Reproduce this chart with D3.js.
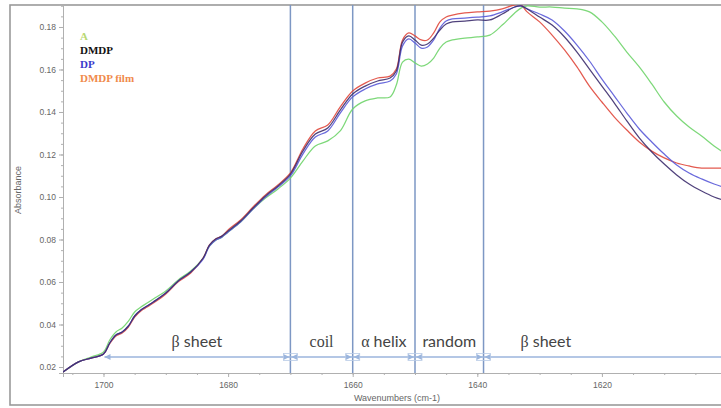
<!DOCTYPE html>
<html><head><meta charset="utf-8">
<script src="https://cdn.jsdelivr.net/npm/d3@7"></script>
<style>html,body{margin:0;padding:0;background:#fff;overflow:hidden}</style>
</head><body>
<svg id="c" width="721" height="408"></svg>
<script>
const wavenumbers = [1706.5,1704,1702,1700,1699,1698,1697,1696,1695,1694,1693,1692,1690,1688,1686,1684,1683,1682,1681,1680,1678,1676,1674,1672,1670,1668,1666,1664,1662,1660,1658,1656,1654,1653,1652,1651,1650,1649,1648,1647,1646,1645,1644,1642,1640,1638,1636,1634,1633,1632,1630,1628,1626,1624,1622,1620,1618,1616,1614,1612,1610,1608,1606,1604,1602,1600];
const seriesA = [.0176,.0224,.0247,.0271,.0327,.0365,.0384,.0416,.0459,.0482,.0501,.0520,.0558,.0610,.0652,.0713,.0769,.0797,.0811,.0835,.0882,.0943,.0995,.1038,.1089,.1169,.1240,.1264,.1311,.1414,.1452,.1466,.1471,.1527,.1635,.1649,.1631,.1616,.1626,.1654,.1701,.1729,.1739,.1748,.1753,.1762,.1809,.1866,.1889,.1899,.1894,.1894,.1889,.1885,.1871,.1824,.1758,.1682,.1612,.1532,.1447,.1381,.1329,.1287,.1240,.1202];
const seriesDMDP = [.0176,.0224,.0242,.0261,.0313,.0351,.0365,.0393,.0440,.0468,.0487,.0506,.0548,.0605,.0647,.0713,.0774,.0802,.0816,.0840,.0887,.0948,.1005,.1052,.1108,.1216,.1296,.1325,.1409,.1485,.1522,.1546,.1560,.1593,.1729,.1758,.1739,.1715,.1720,.1748,.1786,.1814,.1824,.1828,.1833,.1833,.1861,.1894,.1899,.1885,.1847,.1809,.1753,.1682,.1602,.1522,.1442,.1358,.1278,.1212,.1155,.1104,.1061,.1028,.1000,.0981];
const seriesDP = [.0176,.0224,.0242,.0261,.0313,.0351,.0365,.0393,.0440,.0468,.0487,.0506,.0548,.0605,.0647,.0708,.0769,.0797,.0811,.0835,.0882,.0943,.1000,.1047,.1099,.1202,.1282,.1311,.1395,.1471,.1508,.1532,.1546,.1579,.1711,.1744,.1725,.1701,.1706,.1739,.1795,.1828,.1838,.1842,.1847,.1852,.1871,.1894,.1899,.1885,.1861,.1833,.1781,.1715,.1640,.1555,.1475,.1395,.1320,.1259,.1202,.1151,.1113,.1085,.1061,.1042];
const seriesFilm = [.0176,.0224,.0242,.0261,.0310,.0346,.0360,.0388,.0435,.0464,.0482,.0501,.0544,.0601,.0642,.0713,.0774,.0802,.0816,.0845,.0892,.0953,.1010,.1057,.1113,.1226,.1311,.1339,.1424,.1499,.1536,.1560,.1569,.1602,.1739,.1772,.1758,.1739,.1739,.1772,.1824,.1847,.1856,.1866,.1871,.1875,.1885,.1904,.1904,.1871,.1824,.1762,.1692,.1612,.1522,.1447,.1376,.1315,.1259,.1216,.1184,.1160,.1146,.1136,.1136,.1136];
const seriesNames = ["A","DMDP","DP","DMDP film"];
const xTicks = [1700,1680,1660,1640,1620];
const yTicks = [0.02,0.04,0.06,0.08,0.10,0.12,0.14,0.16,0.18];
const boundaries = [1670,1660,1650,1639];
const regionLabels = [
  {from:1700,to:1670,parts:[["β","serif"],[" sheet","sans"]]},
  {from:1670,to:1660,parts:[["coil","serif"]]},
  {from:1660,to:1650,parts:[["α","serif"],[" helix","sans"]]},
  {from:1650,to:1639,parts:[["random","sans"]]},
  {from:1639,to:1619,parts:[["β","serif"],[" sheet","sans"]]}
];

const lineColors = ["#6fd46a","#3d2e6e","#5a5ad8","#e0483c"];
const legendColors = ["#b9d873","#111111","#3b3bcc","#f08a4b"];
const allSeries = [seriesA, seriesDMDP, seriesDP, seriesFilm];

const svg = d3.select("#c");
const L = 63, R = 730, T = 5, B = 373;
const x = d3.scaleLinear().domain([1706.5, 1599.44]).range([L, R]);
const y = d3.scaleLinear().domain([0.01718, 0.19035]).range([B, T]);

svg.append("defs").append("clipPath").attr("id","clip")
  .append("rect").attr("x",L).attr("y",T).attr("width",R-L).attr("height",B-T);

// outer frame
svg.append("rect").attr("x",10).attr("y",5).attr("width",760).attr("height",400)
  .attr("fill","none").attr("stroke","#9a9a9a").attr("stroke-width",1.6);

// axes
const gx = svg.append("g").attr("transform",`translate(0,${B})`);
gx.call(d3.axisBottom(x).tickValues(d3.range(1705,1599,-5)).tickSize(2).tickFormat(""));
gx.call(g=>g.append("g").call(d3.axisBottom(x).tickValues(xTicks).tickSize(4).tickFormat(d3.format("d"))));
gx.selectAll("path.domain").attr("stroke","#b0b0b0");
gx.selectAll("line").attr("stroke","#b0b0b0");
gx.selectAll("text").attr("fill","#666").attr("font-family","Liberation Sans, Arial").attr("font-size",8.5).attr("dy","0.9em");

const gy = svg.append("g").attr("transform",`translate(${L},0)`);
gy.call(d3.axisLeft(y).tickValues(d3.range(0.02,0.1901,0.005)).tickSize(2).tickFormat(""));
gy.call(g=>g.append("g").call(d3.axisLeft(y).tickValues(yTicks).tickSize(4).tickFormat(d3.format(".2f"))));
gy.selectAll("path.domain").attr("stroke","#b0b0b0");
gy.selectAll("line").attr("stroke","#b0b0b0");
gy.selectAll("text").attr("fill","#666").attr("font-family","Liberation Sans, Arial").attr("font-size",8.5);

// axis titles
svg.append("text").attr("x",397).attr("y",401).attr("text-anchor","middle")
  .attr("font-family","Liberation Sans, Arial").attr("font-size",9).attr("fill","#666")
  .text("Wavenumbers (cm-1)");
svg.append("text").attr("transform","translate(21,190) rotate(-90)").attr("text-anchor","middle")
  .attr("font-family","Liberation Sans, Arial").attr("font-size",9).attr("fill","#666")
  .text("Absorbance");

const plot = svg.append("g").attr("clip-path","url(#clip)");

// region boundaries
plot.selectAll("line.b").data(boundaries).join("line")
  .attr("x1",d=>x(d)).attr("x2",d=>x(d)).attr("y1",T).attr("y2",B)
  .attr("stroke","#7d97c4").attr("stroke-width",1.5);

// arrow line
const arrowY = 357;
plot.append("line").attr("x1",x(1700)+1).attr("x2",R).attr("y1",arrowY).attr("y2",arrowY)
  .attr("stroke","#9bb5dd").attr("stroke-width",1.3);
function tri(px, dir){
  const len=6, h=3;
  return `M${px},${arrowY} L${px-dir*len},${arrowY-h} L${px-dir*len},${arrowY+h} Z`;
}
plot.append("path").attr("d",tri(x(1700)+1,-1)).attr("fill","#9bb5dd");
boundaries.forEach(b=>{
  plot.append("path").attr("d",tri(x(b)-1,1)).attr("fill","#9bb5dd");
  plot.append("path").attr("d",tri(x(b)+1,-1)).attr("fill","#9bb5dd");
  plot.append("rect").attr("x",x(b)-7).attr("y",arrowY-3.5).attr("width",14).attr("height",7)
    .attr("fill","none").attr("stroke","#b9cbe6").attr("stroke-width",0.8);
});

// region labels
regionLabels.forEach(r=>{
  const t = svg.append("text").attr("x",(x(r.from)+x(r.to))/2).attr("y",347)
    .attr("text-anchor","middle").attr("font-size",16).attr("fill","#444");
  r.parts.forEach(p=>{
    t.append("tspan").attr("font-family", p[1]==="serif" ? "Liberation Serif, serif" : "Lato, 'Open Sans', sans-serif")
      .text(p[0]);
  });
});

// lines
const line = d3.line().x((d,i)=>x(wavenumbers[i])).y(d=>y(d)).curve(d3.curveCatmullRom.alpha(0.5));
const order = [0,3,2,1];
order.forEach(k=>{
  plot.append("path").datum(allSeries[k]).attr("d",line)
    .attr("fill","none").attr("stroke",lineColors[k]).attr("stroke-width",1.25)
    .attr("stroke-opacity",0.9).attr("stroke-linejoin","round");
});

// legend
const lg = svg.append("g");
seriesNames.forEach((n,i)=>{
  lg.append("text").attr("x",80).attr("y",40+i*14)
    .attr("font-family","Liberation Serif, serif").attr("font-weight","bold").attr("font-size",11)
    .attr("fill",legendColors[i]).text(n);
});
</script>
</body></html>
